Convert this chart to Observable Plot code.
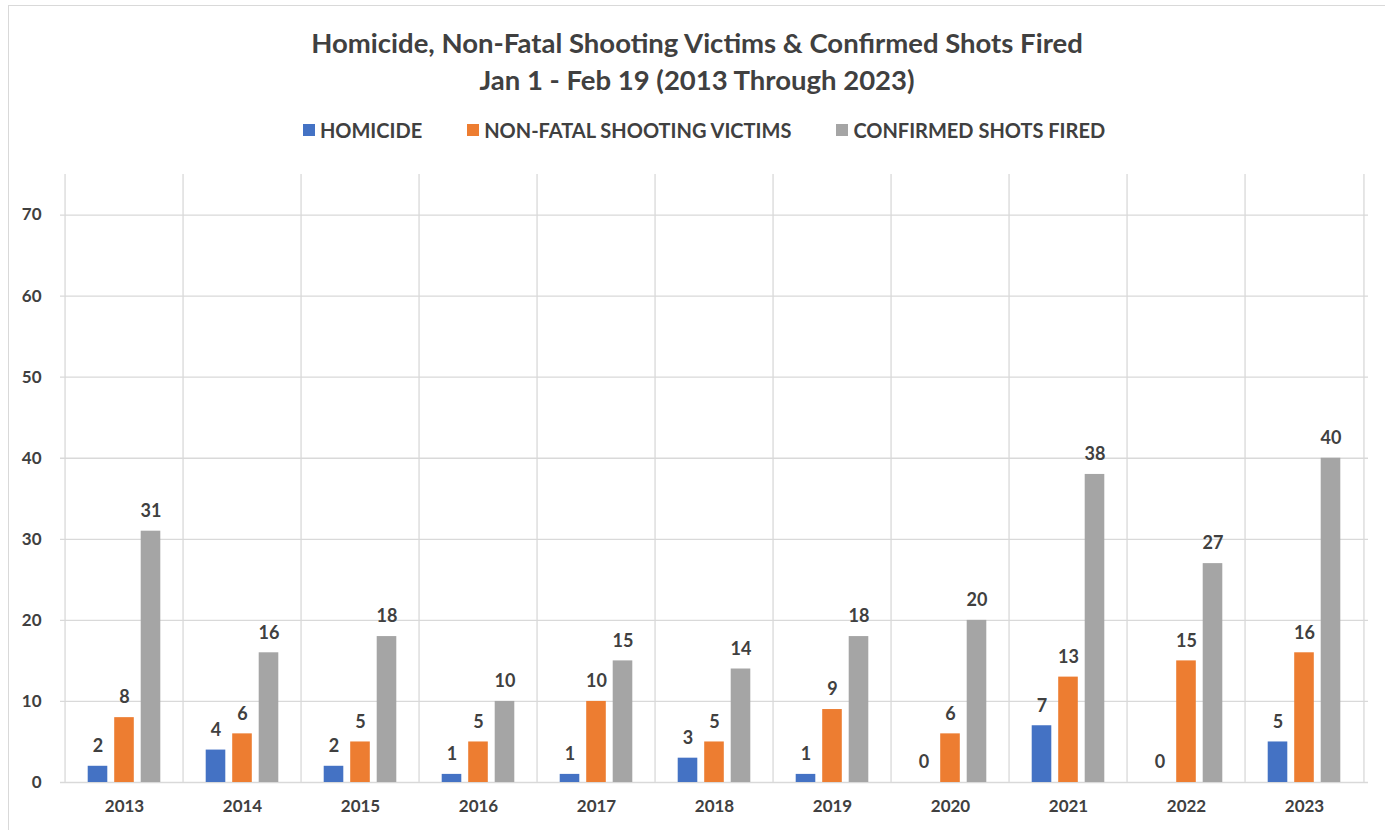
<!DOCTYPE html>
<html>
<head>
<meta charset="utf-8">
<script src="https://cdn.jsdelivr.net/npm/d3@7"></script>
<script src="https://cdn.jsdelivr.net/npm/@observablehq/plot@0.6"></script>
<style>
  html, body { margin: 0; padding: 0; width: 1385px; height: 830px; overflow: hidden; background: #fff; }
  body { font-family: Lato, "Open Sans", sans-serif; color: #404040; position: relative; }
  #frame { position: absolute; left: 8px; top: 5px; width: 1395px; height: 840px; border: 1.5px solid #d9d9d9; box-sizing: border-box; }
  #title { position: absolute; left: 0; width: 1394px; top: 24px; text-align: center; font-weight: 700; font-size: 27.5px; line-height: 37px; }
  #legend { position: absolute; left: 0; width: 1408px; top: 118px; display: flex; justify-content: center; gap: 45px; font-weight: 700; font-size: 20px; line-height: 24px; }
  #legend .item { display: flex; align-items: center; gap: 5px; }
  #legend .sw { width: 12px; height: 12px; display: inline-block; }
  #chart { position: absolute; left: 0; top: 150px; }
</style>
</head>
<body>
<div id="frame"></div>
<div id="title">Homicide, Non-Fatal Shooting Victims &amp; Confirmed Shots Fired<br>Jan 1 - Feb 19 (2013 Through 2023)</div>
<div id="legend"></div>
<div id="chart"></div>
<script>
const years = [2013, 2014, 2015, 2016, 2017, 2018, 2019, 2020, 2021, 2022, 2023];
const homicide = [2, 4, 2, 1, 1, 3, 1, 0, 7, 0, 5];
const nonFatal = [8, 6, 5, 5, 10, 5, 9, 6, 13, 15, 16];
const shotsFired = [31, 16, 18, 10, 15, 14, 18, 20, 38, 27, 40];
const seriesNames = ["HOMICIDE", "NON-FATAL SHOOTING VICTIMS", "CONFIRMED SHOTS FIRED"];
const seriesColors = ["#4472C4", "#ED7D31", "#A5A5A5"];
const yTicks = [0, 10, 20, 30, 40, 50, 60, 70];

const table = years.map((y, i) => ({year: String(y), homicide: homicide[i], nonFatal: nonFatal[i], shots: shotsFired[i]}));
const keys = ["homicide", "nonFatal", "shots"];

const W = 1385, H = 680, mL = 60, mR = 17, mT = 24, mB = 48;
const step = (W - mL - mR) / years.length;
const barW = 20.5;
const offset = 26.5;
const inset = (step - barW) / 2;
const textColor = "#404040";
const grid = "#d9d9d9";

const marks = [
  Plot.ruleY(yTicks.filter(d => d > 0), {stroke: grid, strokeWidth: 1.3}),
  Plot.ruleX(table, {x: "year", dx: -step / 2, stroke: grid, strokeWidth: 1.3}),
  Plot.ruleX([table[table.length - 1]], {x: "year", dx: step / 2, stroke: grid, strokeWidth: 1.3}),
  Plot.ruleY([0], {stroke: grid, strokeWidth: 1.5})
];
keys.forEach((k, j) => {
  const dx = (j - 1) * offset;
  marks.push(Plot.barY(table, {x: "year", y: k, fill: seriesColors[j], dx, insetLeft: inset, insetRight: inset}));
  marks.push(Plot.text(table, {x: "year", y: k, text: d => String(d[k]), dx, dy: -20, fill: textColor, fontSize: 18, fontWeight: 700}));
});
marks.push(Plot.axisY({ticks: yTicks, tickSize: 0, tickPadding: 19, fontSize: 17, fontWeight: 700, fill: textColor, label: null}));
marks.push(Plot.axisX({tickSize: 0, tickPadding: 17, fontSize: 17, fontWeight: 700, fill: textColor, label: null}));

const chart = Plot.plot({
  width: W, height: H,
  marginLeft: mL, marginRight: mR, marginTop: mT, marginBottom: mB,
  style: {fontFamily: "Lato, 'Open Sans', sans-serif", background: "transparent", color: textColor},
  x: {type: "band", domain: years.map(String), padding: 0},
  y: {domain: [0, 75]},
  marks
});
document.getElementById("chart").appendChild(chart);

const legend = document.getElementById("legend");
seriesNames.forEach((n, j) => {
  const item = document.createElement("div");
  item.className = "item";
  const sw = document.createElement("span");
  sw.className = "sw";
  sw.style.background = seriesColors[j];
  const t = document.createElement("span");
  t.textContent = n;
  item.appendChild(sw); item.appendChild(t);
  legend.appendChild(item);
});
</script>
</body>
</html>
